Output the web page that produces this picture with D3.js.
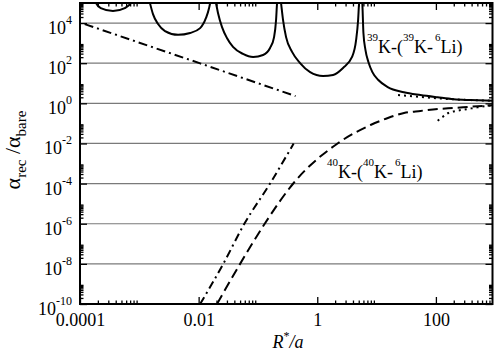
<!DOCTYPE html>
<html>
<head>
<meta charset="utf-8">
<script src="https://cdn.jsdelivr.net/npm/d3@7"></script>
<style>
body { margin: 0; background: #fff; }
text { font-family: "Liberation Serif", "Times New Roman", serif; }
</style>
</head>
<body>
<svg id="chart" width="498" height="359"></svg>
<script>
// axes
var xDomain = [1e-4, 900];
var yDomain = [1e-10, 1e5];
var xMajor = [1e-4, 1e-2, 1, 100];
var xLabels = ["0.0001", "0.01", "1", "100"];
var yExponents = [-10, -8, -6, -4, -2, 0, 2, 4];
var minorSteps = [2, 3, 4, 5, 6, 7, 8, 9];

// 39K-(39K-6Li) : solid curve, one branch between each pair of resonances [R*/a, ratio]
var k39Arc1 = [[1.66e-4, 2.8e5], [1.86e-4, 1e5], [2.24e-4, 5.6e4], [3.6e-4, 4e4], [5.7e-4, 5.6e4], [7.2e-4, 1e5], [8.1e-4, 2.8e5]];
var k39Arc2 = [[1.40e-3, 2.5e5], [1.51e-3, 1e5], [1.70e-3, 2.8e4], [2.07e-3, 8.9e3], [2.71e-3, 4e3], [4.5e-3, 2.6e3], [7.2e-3, 3.2e3], [1.06e-2, 5.6e3], [1.33e-2, 1.8e4], [1.50e-2, 5.6e4], [1.56e-2, 1e5], [1.62e-2, 2.5e5]];
var k39Arc3 = [[1.82e-2, 2.5e5], [1.96e-2, 1e5], [2.12e-2, 3.2e4], [2.48e-2, 6.3e3], [3.0e-2, 1.8e3], [3.8e-2, 650], [5.6e-2, 290], [8.3e-2, 204], [0.122, 257], [0.16, 575], [0.187, 2.0e3], [0.202, 1.4e4], [0.21, 1e5], [0.217, 2.5e5]];
var k39Arc4 = [[0.236, 2.5e5], [0.245, 1e5], [0.265, 1.4e4], [0.298, 2.0e3], [0.376, 365], [0.513, 102], [0.758, 36], [1.25, 23], [1.85, 26], [2.72, 58], [3.86, 204], [4.52, 1.45e3], [4.88, 1.4e4], [5.07, 1e5], [5.25, 2.5e5]];
var k39Tail = [[5.6, 3e5], [5.75, 1e5], [6.0, 3.2e3], [6.5, 450], [7.3, 112], [8.5, 36], [10.7, 14.5], [15.4, 6.5], [28.8, 3.6], [55, 2.6], [107, 2.0], [200, 1.6], [390, 1.45], [900, 1.33]];

// 40K-(40K-6Li) : dashed
var k40Curve = [[2.04e-2, 1e-10], [5.0e-2, 1e-8], [0.13, 1e-6], [0.40, 1.07e-4], [2.2, 1e-2], [7.9, 8.3e-2], [15.5, 0.186], [29, 0.33], [55, 0.42], [107, 0.52], [200, 0.59], [390, 0.68], [900, 0.8]];

// short-range limits : dash-dot
var dashDotUpper = [[1.2e-4, 8.9e3], [1.06e-2, 98], [0.43, 2.3]];
var dashDotLower = [[1.06e-2, 1e-10], [2.6e-2, 1e-8], [5.9e-2, 1e-6], [0.162, 1.07e-4], [0.40, 1e-2]];

// long-range limits : dotted
var dottedUpper = [[23, 2.6], [55, 2.1], [107, 1.78], [200, 1.58], [390, 1.45], [900, 1.35]];
var dottedLower = [[107, 0.135], [130, 0.21], [162, 0.33], [230, 0.43], [340, 0.52], [500, 0.63], [900, 0.8]];

var WIDTH = 498;
var HEIGHT = 359;
var plotL = 80, plotR = 492.5, plotT = 3, plotB = 304;
var FONT = '"Liberation Serif", "Times New Roman", serif';

var svg = d3.select('#chart');

var x = d3.scaleLog().domain(xDomain).range([plotL, plotR]);
var y = d3.scaleLog().domain(yDomain).range([plotB, plotT]);

var yMajor = yExponents.map(e => Math.pow(10, e));
var xMinor = [];
xMajor.forEach(m => minorSteps.forEach(k => { if (k * m < xDomain[1]) xMinor.push(k * m); }));
var yMinor = [];
yMajor.forEach(m => minorSteps.forEach(k => { if (k * m < yDomain[1]) yMinor.push(k * m); }));

// grid
svg.append('g')
    .selectAll('line')
    .data(yMajor.slice(1))
    .enter().append('line')
    .attr('x1', plotL)
    .attr('x2', plotR)
    .attr('y1', d => y(d))
    .attr('y2', d => y(d))
    .attr('stroke', '#7a7a7a')
    .attr('stroke-width', 1.2)

svg.append('clipPath').attr('id', 'plot')
    .append('rect')
    .attr('x', plotL).attr('y', plotT)
    .attr('width', plotR - plotL).attr('height', plotB - plotT)

var smooth = d3.line()
    .x(d => x(d[0]))
    .y(d => y(d[1]))
    .curve(d3.curveMonotoneX)
var straight = d3.line()
    .x(d => x(d[0]))
    .y(d => y(d[1]))

var curves = svg.append('g').attr('clip-path', 'url(#plot)')
    .attr('fill', 'none').attr('stroke', 'black').attr('stroke-width', 2)

;[k39Arc1, k39Arc2, k39Arc3, k39Arc4, k39Tail].forEach(branch => {
    curves.append('path').attr('d', smooth(branch))
})
curves.append('path').attr('d', smooth(k40Curve)).attr('stroke-dasharray', '10,5')
curves.append('path').attr('d', straight(dashDotUpper)).attr('stroke-dasharray', '9,4,2,4')
curves.append('path').attr('d', smooth(dashDotLower)).attr('stroke-dasharray', '8,4,2,4')
curves.append('path').attr('d', smooth(dottedUpper)).attr('stroke-dasharray', '2,4')
curves.append('path').attr('d', smooth(dottedLower)).attr('stroke-dasharray', '2,4')

// frame
svg.append('rect')
    .attr('x', plotL).attr('y', plotT)
    .attr('width', plotR - plotL).attr('height', plotB - plotT)
    .attr('fill', 'none').attr('stroke', 'black').attr('stroke-width', 2)

function styleAxis(g) {
    g.select('.domain').remove()
    g.attr('font-family', FONT).attr('font-size', 18)
    g.selectAll('.tick line').attr('stroke-width', 1.3)
    g.selectAll('.tick text').attr('fill', 'black')
}

// x axes
svg.append('g').attr('transform', 'translate(0,' + plotB + ')')
    .call(d3.axisBottom(x).tickValues(xMajor).tickSize(-7).tickPadding(9.5).tickFormat((d, i) => xLabels[i]))
    .call(styleAxis)
svg.append('g').attr('transform', 'translate(0,' + plotB + ')')
    .call(d3.axisBottom(x).tickValues(xMinor).tickSize(-3.5).tickFormat(''))
    .call(styleAxis)
svg.append('g').attr('transform', 'translate(0,' + plotT + ')')
    .call(d3.axisTop(x).tickValues(xMajor).tickSize(-7).tickFormat(''))
    .call(styleAxis)
svg.append('g').attr('transform', 'translate(0,' + plotT + ')')
    .call(d3.axisTop(x).tickValues(xMinor).tickSize(-3.5).tickFormat(''))
    .call(styleAxis)

// y axes
var yAxis = svg.append('g').attr('transform', 'translate(' + plotL + ',0)')
    .call(d3.axisLeft(y).tickValues(yMajor).tickSize(-7).tickPadding(8))
    .call(styleAxis)
yAxis.selectAll('.tick text').each(function(d) {
    var t = d3.select(this)
    var e = Math.round(Math.log10(d))
    t.text(null).attr('dy', '0.58em')
    t.append('tspan').text('10')
    t.append('tspan').attr('dy', -10).attr('font-size', 12).text(e)
})
svg.append('g').attr('transform', 'translate(' + plotL + ',0)')
    .call(d3.axisLeft(y).tickValues(yMinor).tickSize(-3.5).tickFormat(''))
    .call(styleAxis)
svg.append('g').attr('transform', 'translate(' + plotR + ',0)')
    .call(d3.axisRight(y).tickValues(yMajor).tickSize(-7).tickFormat(''))
    .call(styleAxis)
svg.append('g').attr('transform', 'translate(' + plotR + ',0)')
    .call(d3.axisRight(y).tickValues(yMinor).tickSize(-3.5).tickFormat(''))
    .call(styleAxis)

// titles
var xt = svg.append('text').attr('x', 288).attr('y', 348)
    .attr('text-anchor', 'middle').attr('font-size', 18).attr('font-style', 'italic')
xt.append('tspan').text('R')
xt.append('tspan').attr('dy', -8).attr('font-size', 12).attr('font-style', 'normal').text('*')
xt.append('tspan').attr('dy', 8).text('/a')

var yt = svg.append('text').attr('transform', 'translate(20,150) rotate(-90)')
    .attr('text-anchor', 'middle').attr('font-size', 22)
yt.append('tspan').text('α')
yt.append('tspan').attr('dy', 6).attr('font-size', 15).text('rec')
yt.append('tspan').attr('dy', -6).text(' /α')
yt.append('tspan').attr('dy', 6).attr('font-size', 15).text('bare')

function isotopeLabel(px, py, a, b) {
    var t = svg.append('text').attr('x', px).attr('y', py).attr('font-size', 18)
    t.append('tspan').attr('dy', -12).attr('font-size', 11).text(a)
    t.append('tspan').attr('dy', 12).text('K-(')
    t.append('tspan').attr('dy', -12).attr('font-size', 11).text(b)
    t.append('tspan').attr('dy', 12).text('K-')
    t.append('tspan').attr('dy', -12).attr('dx', 2).attr('font-size', 11).text('6')
    t.append('tspan').attr('dy', 12).text('Li)')
}
isotopeLabel(367, 53, '39', '39')
isotopeLabel(327, 178, '40', '40')
</script>
</body>
</html>
